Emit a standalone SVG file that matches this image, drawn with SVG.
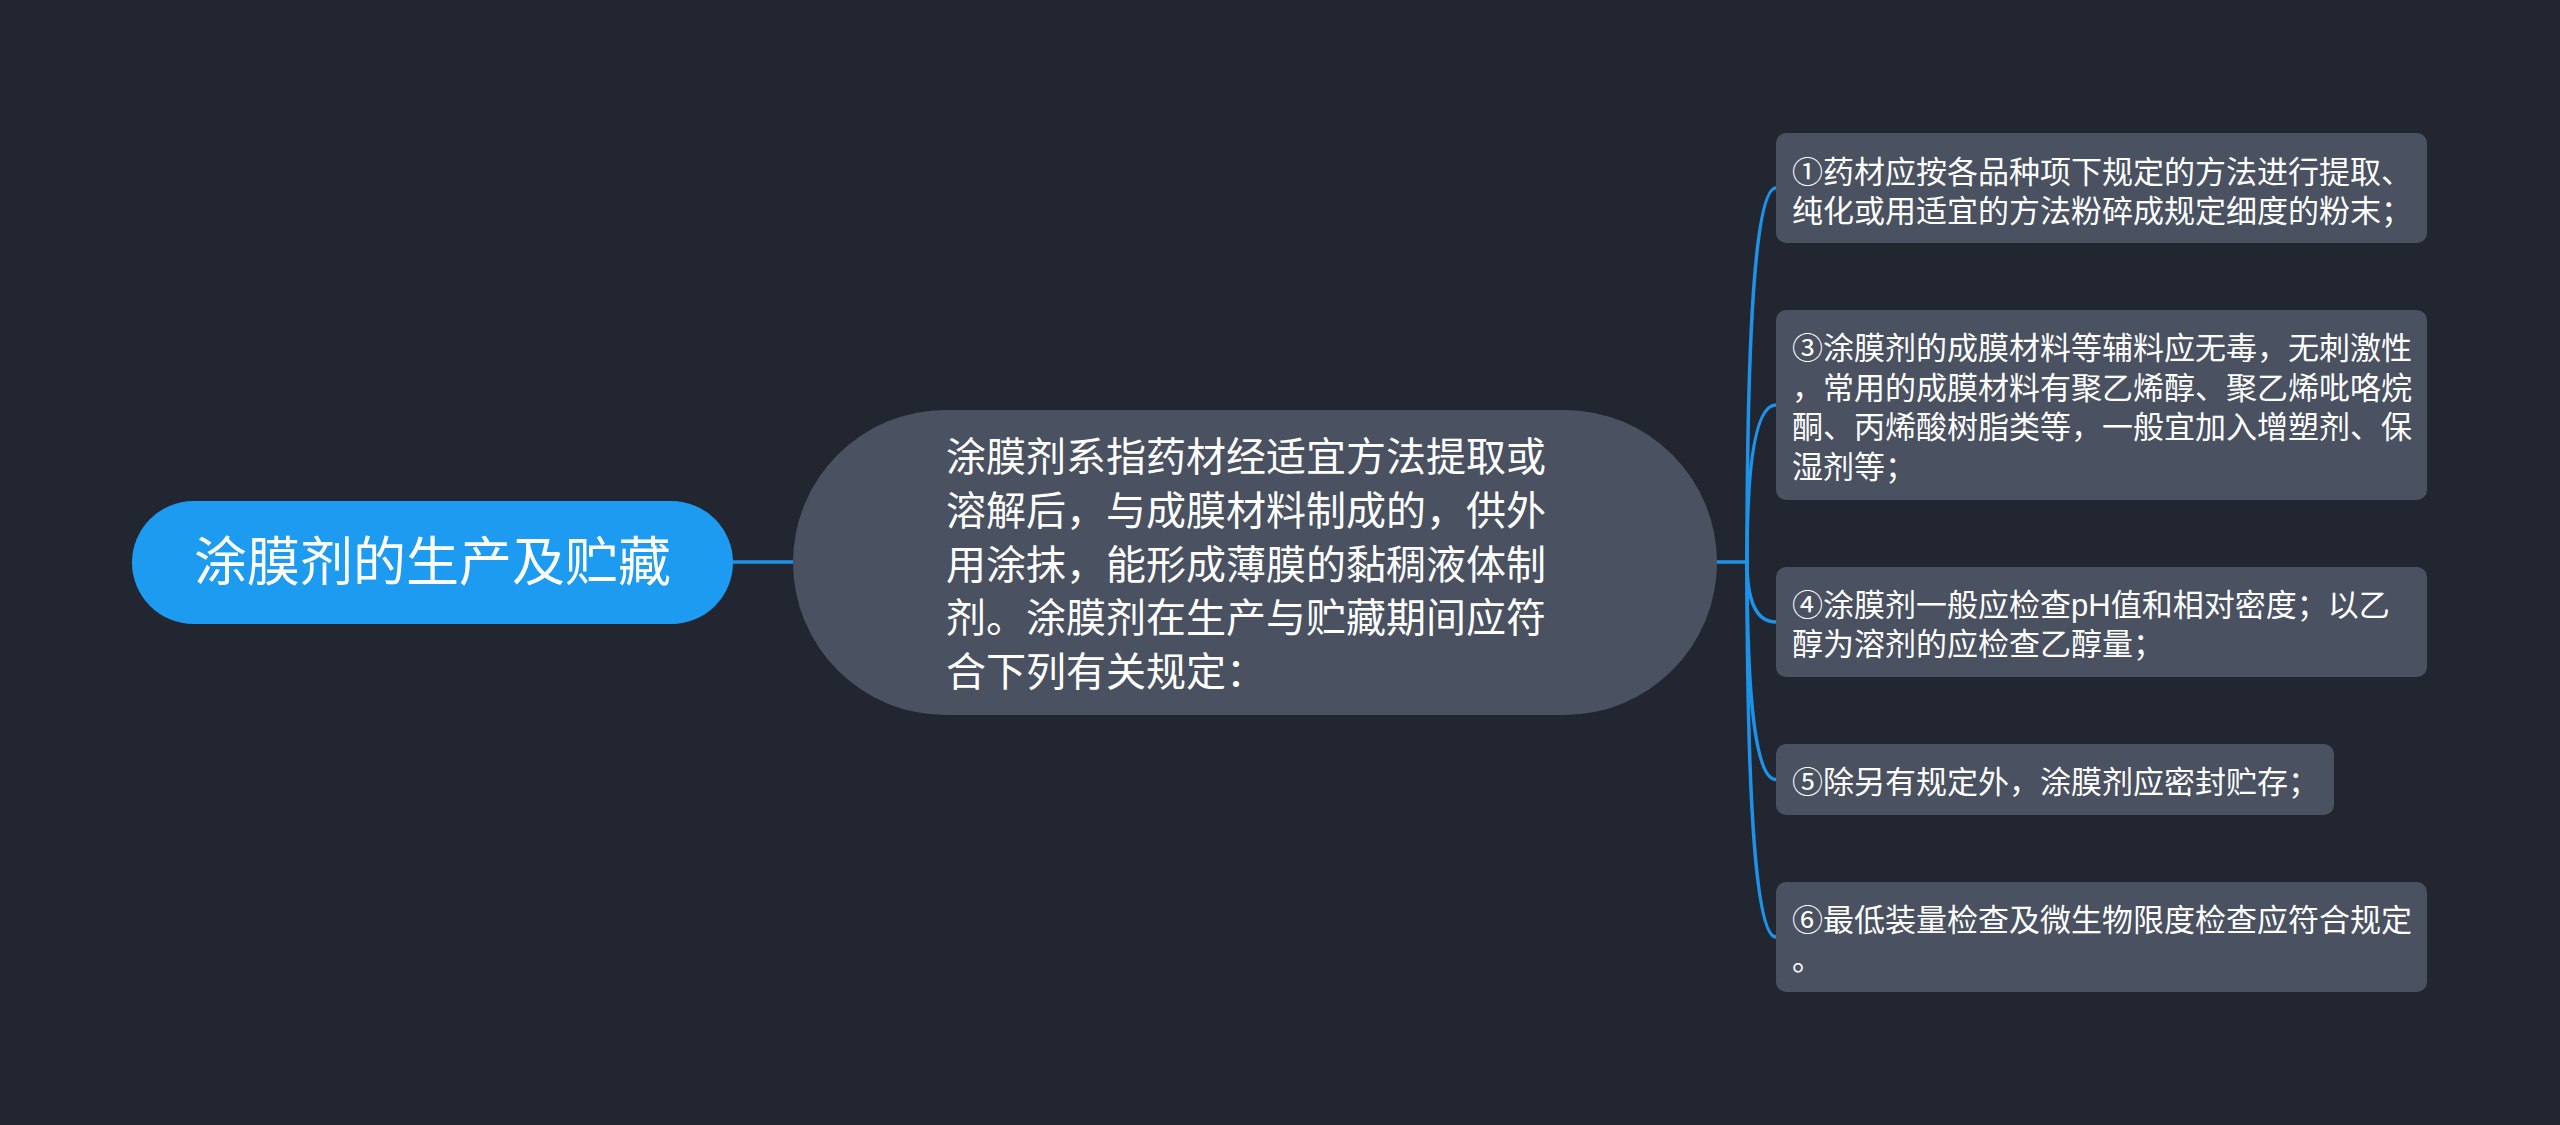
<svg xmlns="http://www.w3.org/2000/svg" width="2560" height="1125" viewBox="0 0 2560 1125">
<style>
.bg{fill:#222631}
.root{fill:#1c9bf0}
.mid{fill:#4a5161}
.leaf{fill:#4a5161}
.edge{fill:none;stroke:#1c93e8;stroke-width:3.5;stroke-linecap:round}
text{fill:#ffffff;font-family:"Noto Sans CJK SC","Noto Sans",sans-serif}
.t-root{font-size:53px}
.t-mid{font-size:40px}
.t-leaf{font-size:31px;font-family:"Liberation Sans","Noto Sans CJK SC",sans-serif}
</style>
<rect class="bg" x="0" y="0" width="2560" height="1125"/>
<g id="connectors">
<path class="edge" d="M733 562 L793 562"/>
<path class="edge" d="M1717 562 L1747 562"/>
<path class="edge" d="M1747 562 Q1747 188 1776 188"/>
<path class="edge" d="M1747 562 Q1747 405 1776 405"/>
<path class="edge" d="M1747 562 Q1747 622 1776 622"/>
<path class="edge" d="M1747 562 Q1747 779.5 1776 779.5"/>
<path class="edge" d="M1747 562 Q1747 937 1776 937"/>
</g>
<g id="root">
<rect class="root" x="132" y="501" width="601" height="123" rx="61.5"/>
<text class="t-root" x="432.5" y="581" text-anchor="middle">涂膜剂的生产及贮藏</text>
</g>
<g id="central">
<rect class="mid" x="793" y="410" width="924" height="305" rx="152.5"/>
<text class="t-mid" x="946">
<tspan x="946" y="471">涂膜剂系指药材经适宜方法提取或</tspan>
<tspan x="946" y="525">溶解后，与成膜材料制成的，供外</tspan>
<tspan x="946" y="579">用涂抹，能形成薄膜的黏稠液体制</tspan>
<tspan x="946" y="632">剂。涂膜剂在生产与贮藏期间应符</tspan>
<tspan x="946" y="686">合下列有关规定：</tspan>
</text>
</g>
<g id="leaf1">
<rect class="leaf" x="1776" y="133" width="651" height="110" rx="10"/>
<text class="t-leaf"><tspan x="1792" y="183">①药材应按各品种项下规定的方法进行提取、</tspan><tspan x="1792" y="222">纯化或用适宜的方法粉碎成规定细度的粉末；</tspan></text>
</g>
<g id="leaf3">
<rect class="leaf" x="1776" y="310" width="651" height="190" rx="10"/>
<text class="t-leaf"><tspan x="1792" y="359">③涂膜剂的成膜材料等辅料应无毒，无刺激性</tspan><tspan x="1792" y="398.5">，常用的成膜材料有聚乙烯醇、聚乙烯吡咯烷</tspan><tspan x="1792" y="438">酮、丙烯酸树脂类等，一般宜加入增塑剂、保</tspan><tspan x="1792" y="477.5">湿剂等；</tspan></text>
</g>
<g id="leaf4">
<rect class="leaf" x="1776" y="567" width="651" height="110" rx="10"/>
<text class="t-leaf"><tspan x="1792" y="616">④涂膜剂一般应检查pH值和相对密度；以乙</tspan><tspan x="1792" y="655">醇为溶剂的应检查乙醇量；</tspan></text>
</g>
<g id="leaf5">
<rect class="leaf" x="1776" y="744" width="558" height="71" rx="10"/>
<text class="t-leaf"><tspan x="1792" y="793">⑤除另有规定外，涂膜剂应密封贮存；</tspan></text>
</g>
<g id="leaf6">
<rect class="leaf" x="1776" y="882" width="651" height="110" rx="10"/>
<text class="t-leaf"><tspan x="1792" y="931">⑥最低装量检查及微生物限度检查应符合规定</tspan><tspan x="1792" y="970">。</tspan></text>
</g>
</svg>
